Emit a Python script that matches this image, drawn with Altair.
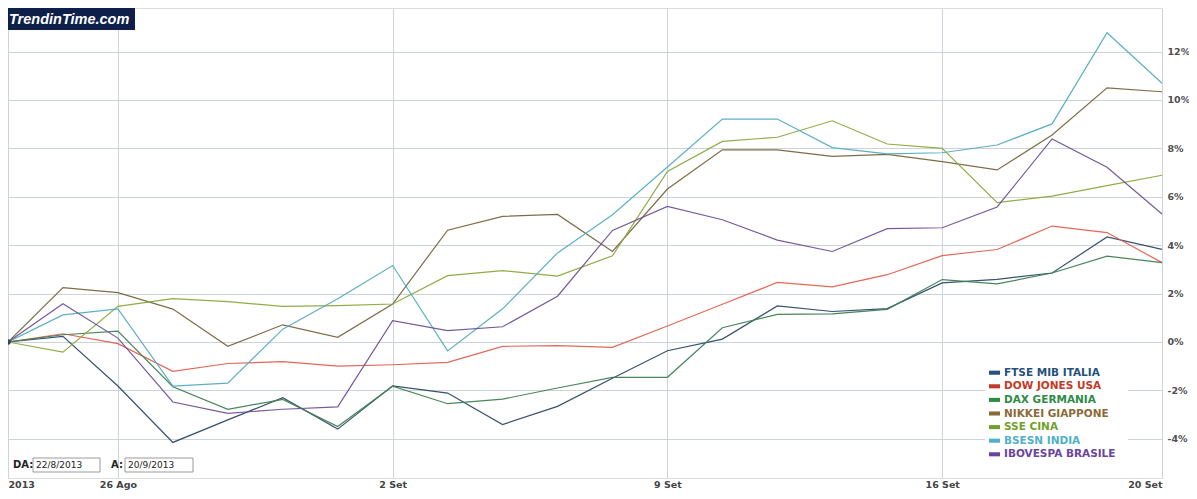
import altair as alt
import pandas as pd

DATES = ["22/8", "23/8", "26/8", "27/8", "28/8", "29/8", "30/8", "2/9", "3/9", "4/9", "5/9",
         "6/9", "9/9", "10/9", "11/9", "12/9", "13/9", "16/9", "17/9", "18/9", "19/9", "20/9"]
SERIES = ["FTSE MIB ITALIA", "DOW JONES USA", "DAX GERMANIA", "NIKKEI GIAPPONE",
          "SSE CINA", "BSESN INDIA", "IBOVESPA BRASILE"]

FTSE = [0, 0.23, -1.82, -4.15, -3.22, -2.30, -3.60, -1.81, -2.11, -3.41, -2.66,
        -1.50, -0.36, 0.12, 1.49, 1.26, 1.38, 2.44, 2.59, 2.85, 4.34, 3.83]
DOW = [0, 0.34, -0.07, -1.21, -0.89, -0.81, -1.00, -0.94, -0.84, -0.18, -0.15,
       -0.22, 0.66, 1.56, 2.46, 2.28, 2.78, 3.57, 3.82, 4.79, 4.52, 3.28]
DAX = [0, 0.30, 0.45, -1.85, -2.78, -2.37, -3.49, -1.83, -2.55, -2.36, -1.90,
       -1.46, -1.46, 0.59, 1.14, 1.16, 1.35, 2.58, 2.40, 2.85, 3.55, 3.28]
NIKKEI = [0, 2.25, 2.04, 1.36, -0.18, 0.71, 0.19, 1.57, 4.62, 5.19, 5.27,
          3.74, 6.32, 7.94, 7.94, 7.67, 7.75, 7.45, 7.11, 8.55, 10.50, 10.34]
SSE = [0, -0.42, 1.47, 1.79, 1.67, 1.47, 1.50, 1.57, 2.74, 2.95, 2.72,
       3.56, 7.05, 8.29, 8.46, 9.14, 8.18, 8.00, 5.76, 6.03, 6.46, 6.89]
BSESN = [0, 1.12, 1.37, -1.82, -1.70, 0.53, 1.79, 3.16, -0.37, 1.37, 3.68,
         5.26, 7.23, 9.21, 9.21, 8.03, 7.77, 7.82, 8.14, 9.01, 12.78, 10.69]
IBOV = [0, 1.58, 0.16, -2.48, -2.95, -2.78, -2.68, 0.88, 0.47, 0.63, 1.89,
        4.61, 5.60, 5.05, 4.21, 3.74, 4.68, 4.72, 5.58, 8.39, 7.22, 5.29]

LINE_COLORS = ["#2c4866", "#e0604f", "#3d7f52", "#76653d", "#8aa83c", "#55abc2", "#6d5196"]
LABEL_COLORS = ["#27507a", "#c33a28", "#2f8a48", "#8b6a3a", "#73a02c", "#4fb1c9", "#6a459e"]

TICK_IDX = [0, 2, 7, 12, 17, 21]
TICK_LABELS = ["2013", "26 Ago", "2 Set", "9 Set", "16 Set", "20 Set"]
Y_TICKS = [-4, -2, 0, 2, 4, 6, 8, 10, 12]

rows = []
for name, vals in zip(SERIES, [FTSE, DOW, DAX, NIKKEI, SSE, BSESN, IBOV]):
    for i, v in enumerate(vals):
        rows.append({"series": name, "i": i, "date": DATES[i], "pct": v})
df = pd.DataFrame(rows)

label_expr = " : ".join(f"datum.value == {i} ? '{l}'" for i, l in zip(TICK_IDX, TICK_LABELS)) + " : ''"

GRID = "#cbd4dc"
W, H = 1154, 470
xscale = alt.Scale(domain=[0, len(DATES) - 1], nice=False, zero=False)
yscale = alt.Scale(domain=[-5.62, 13.8], nice=False, zero=False)

lines = alt.Chart(df).mark_line(strokeWidth=1.2, opacity=0.95).encode(
    x=alt.X("i:Q", scale=xscale,
            axis=alt.Axis(values=TICK_IDX, labelExpr=label_expr, title=None, grid=True,
                          gridColor=GRID, ticks=False, domain=False, labelFlush=True,
                          labelFont="DejaVu Sans", labelFontWeight="bold", labelFontSize=9.5,
                          labelColor="#444444", labelPadding=1)),
    y=alt.Y("pct:Q", scale=yscale,
            axis=alt.Axis(orient="right", values=Y_TICKS, labelExpr="datum.value + '%'",
                          title=None, grid=True, gridColor=GRID, ticks=False, domain=False,
                          labelPadding=5, labelFont="DejaVu Sans", labelFontWeight="bold",
                          labelFontSize=9.5, labelColor="#505050")),
    color=alt.Color("series:N", scale=alt.Scale(domain=SERIES, range=LINE_COLORS), legend=None),
)

dot = alt.Chart(df[(df["i"] == 0) & (df["series"] == SERIES[0])]).mark_circle(
    size=30, color=LINE_COLORS[0], opacity=1).encode(
    x=alt.X("i:Q", scale=xscale),
    y=alt.Y("pct:Q", scale=yscale, axis=None),
)

one = pd.DataFrame({"a": [0]})

legdf = pd.DataFrame({"series": SERIES, "row": list(range(len(SERIES)))})
legscale = alt.Scale(domain=[0, 6], range=[364.7, 446.3], nice=False, zero=False)

leg_bg = alt.Chart(one).mark_rect(fill="white").encode(
    x=alt.value(977), x2=alt.value(1120), y=alt.value(356), y2=alt.value(455))

leg_sym = alt.Chart(legdf).mark_rect().transform_calculate(
    y0="datum.row - 0.15", y1="datum.row + 0.15").encode(
    x=alt.value(981), x2=alt.value(992),
    y=alt.Y("y0:Q", scale=legscale, axis=None), y2="y1:Q",
    color=alt.Color("series:N", scale=alt.Scale(domain=SERIES, range=LABEL_COLORS), legend=None),
)
leg_text = alt.Chart(legdf).mark_text(
    align="left", baseline="middle", font="DejaVu Sans", fontWeight="bold", fontSize=10.5).encode(
    x=alt.value(996),
    y=alt.Y("row:Q", scale=legscale, axis=None),
    text="series:N",
    color=alt.Color("series:N", scale=alt.Scale(domain=SERIES, range=LABEL_COLORS), legend=None),
)

BY0, BY1, BYM = 450, 464, 457
box1 = alt.Chart(one).mark_rect(fill="white", stroke="#9a9a9a", strokeWidth=1).encode(
    x=alt.value(25), x2=alt.value(92), y=alt.value(BY0), y2=alt.value(BY1))
box2 = alt.Chart(one).mark_rect(fill="white", stroke="#9a9a9a", strokeWidth=1).encode(
    x=alt.value(117), x2=alt.value(185), y=alt.value(BY0), y2=alt.value(BY1))
da_lab = alt.Chart(one).mark_text(text="DA:", align="left", baseline="middle", font="DejaVu Sans",
                                  fontWeight="bold", fontSize=10, color="#222222").encode(
    x=alt.value(5), y=alt.value(BYM))
a_lab = alt.Chart(one).mark_text(text="A:", align="left", baseline="middle", font="DejaVu Sans",
                                 fontWeight="bold", fontSize=10, color="#222222").encode(
    x=alt.value(103), y=alt.value(BYM))
da_val = alt.Chart(one).mark_text(text="22/8/2013", align="left", baseline="middle",
                                  font="DejaVu Sans", fontSize=9, color="#222222").encode(
    x=alt.value(28), y=alt.value(BYM))
a_val = alt.Chart(one).mark_text(text="20/9/2013", align="left", baseline="middle",
                                 font="DejaVu Sans", fontSize=9, color="#222222").encode(
    x=alt.value(120), y=alt.value(BYM))

logo_bg = alt.Chart(one).mark_rect(fill="#0e2049").encode(
    x=alt.value(0), x2=alt.value(127), y=alt.value(0), y2=alt.value(22))
logo_txt = alt.Chart(one).mark_text(text="TrendinTime.com", align="left", baseline="middle",
                                    font="Liberation Sans", fontWeight="bold", fontStyle="italic",
                                    fontSize=14.5, color="white").encode(
    x=alt.value(1), y=alt.value(12))

chart = alt.layer(
    lines, dot, leg_bg, leg_sym, leg_text,
    box1, box2, da_lab, a_lab, da_val, a_val, logo_bg, logo_txt
).resolve_scale(y="independent", color="independent").properties(
    width=W, height=H,
    autosize=alt.AutoSizeParams(type="none"),
    padding={"left": 0, "top": 0, "right": 27, "bottom": 12},
).configure_view(stroke="#c5ced6").configure(background="white")

chart.save("out.html", embed_options={"renderer": "svg", "actions": False})
